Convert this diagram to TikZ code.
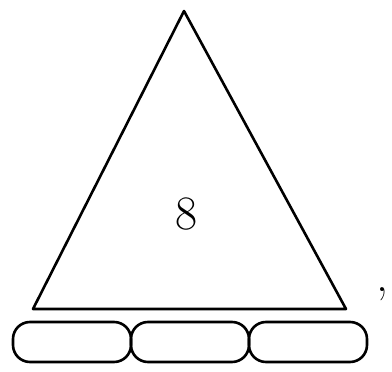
\documentclass[tikz,border=0pt]{standalone}
\usepackage{tikz}
\usetikzlibrary{positioning,calc}

\begin{document}
\begin{tikzpicture}[
    x=1pt, y=-1pt,
    line width=2.6pt,
    cell/.style={draw, rounded corners=17pt, minimum width=118pt,
                 minimum height=40pt, inner sep=0pt, outer sep=0pt},
    num/.style={font=\fontsize{48}{50}\selectfont, inner sep=0pt},
    node distance=0pt,
]
\useasboundingbox (0,0) rectangle (392,372);

% --- Triangle with its number ---
\coordinate (apex)  at (184,11);
\coordinate (bleft) at (33,309);
\coordinate (bright) at (346,309);
\draw[line join=round] (apex) -- (bleft) -- (bright) -- cycle;
\node[num] (val) at (187,214) {8};
\node[num, anchor=base] (comma) at (382,291) {,};

% --- Three empty answer cells below ---
\node[cell, anchor=north west] (cellA) at (13,322) {};
\node[cell, right=of cellA]    (cellB) {};
\node[cell, right=of cellB]    (cellC) {};

\end{tikzpicture}
\end{document}
